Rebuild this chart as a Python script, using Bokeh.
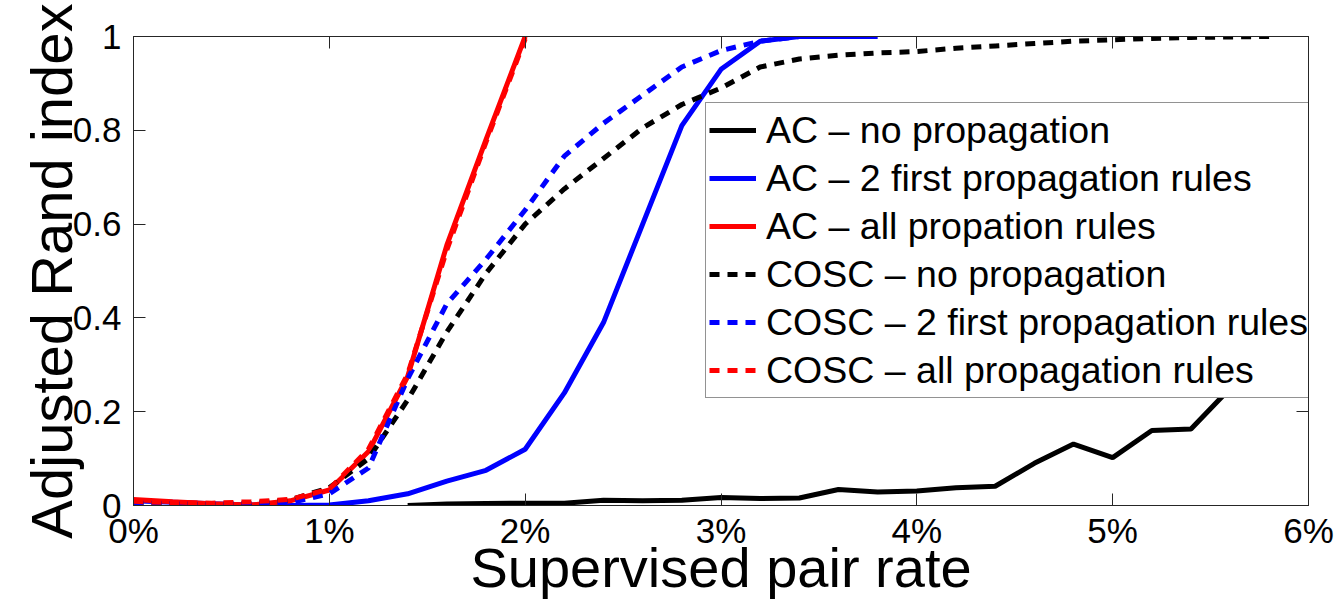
from bokeh.plotting import figure
from bokeh.models import FixedTicker, LinearAxis, Legend, LegendItem, Range1d
from bokeh.embed import file_html
from bokeh.resources import INLINE

# ---------------- data (supervised pair rate in %, ARI) ----------------
ac_none_x = [1.4, 1.6, 1.8, 2.0, 2.2, 2.4, 2.6, 2.8, 3.0, 3.2, 3.4, 3.6, 3.8,
             4.0, 4.2, 4.4, 4.6, 4.8, 5.0, 5.2, 5.4, 5.6, 5.8]
ac_none_y = [0.0, 0.003, 0.004, 0.005, 0.005, 0.011, 0.010, 0.011, 0.017, 0.015,
             0.016, 0.034, 0.029, 0.031, 0.038, 0.041, 0.090, 0.131, 0.102,
             0.160, 0.163, 0.25, 0.35]

ac_two_x = [0.0, 0.2, 0.4, 0.6, 0.8, 1.0, 1.2, 1.4, 1.6, 1.8, 2.0, 2.2, 2.4,
            2.6, 2.8, 3.0, 3.2, 3.4, 3.6, 3.8]
ac_two_y = [0.010, 0.007, 0.004, 0.001, 0.0, 0.001, 0.010, 0.025, 0.052, 0.075,
            0.12, 0.24, 0.39, 0.60, 0.81, 0.93, 0.99, 1.0, 1.0, 1.0]

ac_all_x = [0.0, 0.2, 0.4, 0.6, 0.8, 1.0, 1.2, 1.4, 1.6, 1.8, 2.0]
ac_all_y = [0.013, 0.008, 0.004, 0.001, 0.010, 0.033, 0.115, 0.275, 0.555,
            0.78, 1.0]

cosc_none_x = [0.0, 0.2, 0.4, 0.6, 0.8, 1.0, 1.2, 1.4, 1.6, 1.8, 2.0, 2.2, 2.4,
               2.6, 2.8, 3.0, 3.2, 3.4, 3.6, 3.8, 4.0, 4.2, 4.4, 4.6, 4.8,
               5.0, 5.2, 5.4, 5.6, 5.8]
cosc_none_y = [0.004, 0.003, 0.002, 0.004, 0.012, 0.038, 0.10, 0.225, 0.37,
               0.495, 0.60, 0.675, 0.74, 0.805, 0.855, 0.89, 0.935, 0.952,
               0.96, 0.965, 0.968, 0.975, 0.98, 0.985, 0.99, 0.993, 0.996,
               0.998, 0.999, 1.0]

cosc_two_x = [0.0, 0.2, 0.4, 0.6, 0.8, 1.0, 1.2, 1.4, 1.6, 1.8, 2.0, 2.2, 2.4,
              2.6, 2.8, 3.0, 3.2, 3.4]
cosc_two_y = [0.006, 0.004, 0.003, 0.003, 0.006, 0.025, 0.08, 0.27, 0.43,
              0.525, 0.63, 0.745, 0.815, 0.875, 0.935, 0.97, 0.99, 1.0]

cosc_all_x = [0.0, 0.2, 0.4, 0.6, 0.8, 1.0, 1.2, 1.4, 1.6, 1.8, 2.0]
cosc_all_y = [0.009, 0.006, 0.005, 0.008, 0.013, 0.035, 0.12, 0.28, 0.545,
              0.775, 0.995]

series_labels = ["AC \u2013 no propagation",
                 "AC \u2013 2 first propagation rules",
                 "AC \u2013 all propation rules",
                 "COSC \u2013 no propagation",
                 "COSC \u2013 2 first propagation rules",
                 "COSC \u2013 all propagation rules"]

x_ticks = [0, 1, 2, 3, 4, 5, 6]
x_tick_labels = ["0%", "1%", "2%", "3%", "4%", "5%", "6%"]
y_ticks = [0, 0.2, 0.4, 0.6, 0.8, 1]
y_tick_labels = ["0", "0.2", "0.4", "0.6", "0.8", "1"]

x_label = "Supervised pair rate"
y_label = "Adjusted Rand index"

# ---------------- figure ----------------
FONT = "Liberation Sans"
FRAME = "#262626"

p = figure(width=1337, height=603, x_range=Range1d(0, 6), y_range=Range1d(0, 1),
           output_backend="svg", toolbar_location=None,
           min_border_left=133, min_border_right=29,
           min_border_top=36, min_border_bottom=98)
p.xgrid.visible = False
p.ygrid.visible = False
p.outline_line_color = FRAME
p.outline_line_width = 1
p.background_fill_color = "white"
p.border_fill_color = "white"

def style_axis(ax, ticks, labels, show_labels=True):
    ax.ticker = FixedTicker(ticks=ticks)
    ax.major_tick_in = 12
    ax.major_tick_out = 0
    ax.minor_tick_line_color = None
    ax.axis_line_color = FRAME
    ax.major_tick_line_color = FRAME
    if show_labels:
        ax.major_label_overrides = dict(zip(ticks, labels))
        ax.major_label_text_font = FONT
        ax.major_label_text_font_size = "35px"
        ax.major_label_text_color = "black"
    else:
        ax.major_label_overrides = {t: "" for t in ticks}
        ax.major_label_text_font_size = "0px"
        ax.major_label_standoff = 0

style_axis(p.xaxis[0], x_ticks, x_tick_labels)
style_axis(p.yaxis[0], y_ticks, y_tick_labels)
p.xaxis[0].major_label_standoff = 5
p.yaxis[0].major_label_standoff = 12

for ax, lab, size in ((p.xaxis[0], x_label, "56px"), (p.yaxis[0], y_label, "58px")):
    ax.axis_label = lab
    ax.axis_label_text_font = FONT
    ax.axis_label_text_font_size = size
    ax.axis_label_text_font_style = "normal"
    ax.axis_label_text_color = "black"
p.xaxis[0].axis_label_standoff = -17
p.yaxis[0].axis_label_standoff = -14

top_ax = LinearAxis()
style_axis(top_ax, x_ticks, x_tick_labels, show_labels=False)
p.add_layout(top_ax, "above")
right_ax = LinearAxis()
style_axis(right_ax, y_ticks, y_tick_labels, show_labels=False)
p.add_layout(right_ax, "right")

# ---------------- lines ----------------
specs = [
    (ac_none_x, ac_none_y, "black", "solid"),
    (ac_two_x, ac_two_y, "#0000ff", "solid"),
    (ac_all_x, ac_all_y, "#ff0000", "solid"),
    (cosc_none_x, cosc_none_y, "black", "10 8"),
    (cosc_two_x, cosc_two_y, "#0000ff", "10 8"),
    (cosc_all_x, cosc_all_y, "#ff0000", "10 8"),
]
items = []
for (xs, ys, col, dash), lab in zip(specs, series_labels):
    r = p.line(xs, ys, line_color=col, line_width=5, line_dash=dash)
    items.append(LegendItem(label=lab, renderers=[r]))

legend = Legend(items=items, location=(572, 107))
legend.label_text_font = FONT
legend.label_text_font_size = "37.5px"
legend.label_text_color = "black"
legend.glyph_width = 47
legend.glyph_height = 48
legend.label_height = 48
legend.label_standoff = 10
legend.spacing = 0
legend.padding = 3
legend.margin = 0
legend.border_line_color = FRAME
legend.border_line_width = 1
legend.background_fill_color = "white"
legend.background_fill_alpha = 1.0
p.add_layout(legend)

open("out.html", "w").write(file_html(p, INLINE))
